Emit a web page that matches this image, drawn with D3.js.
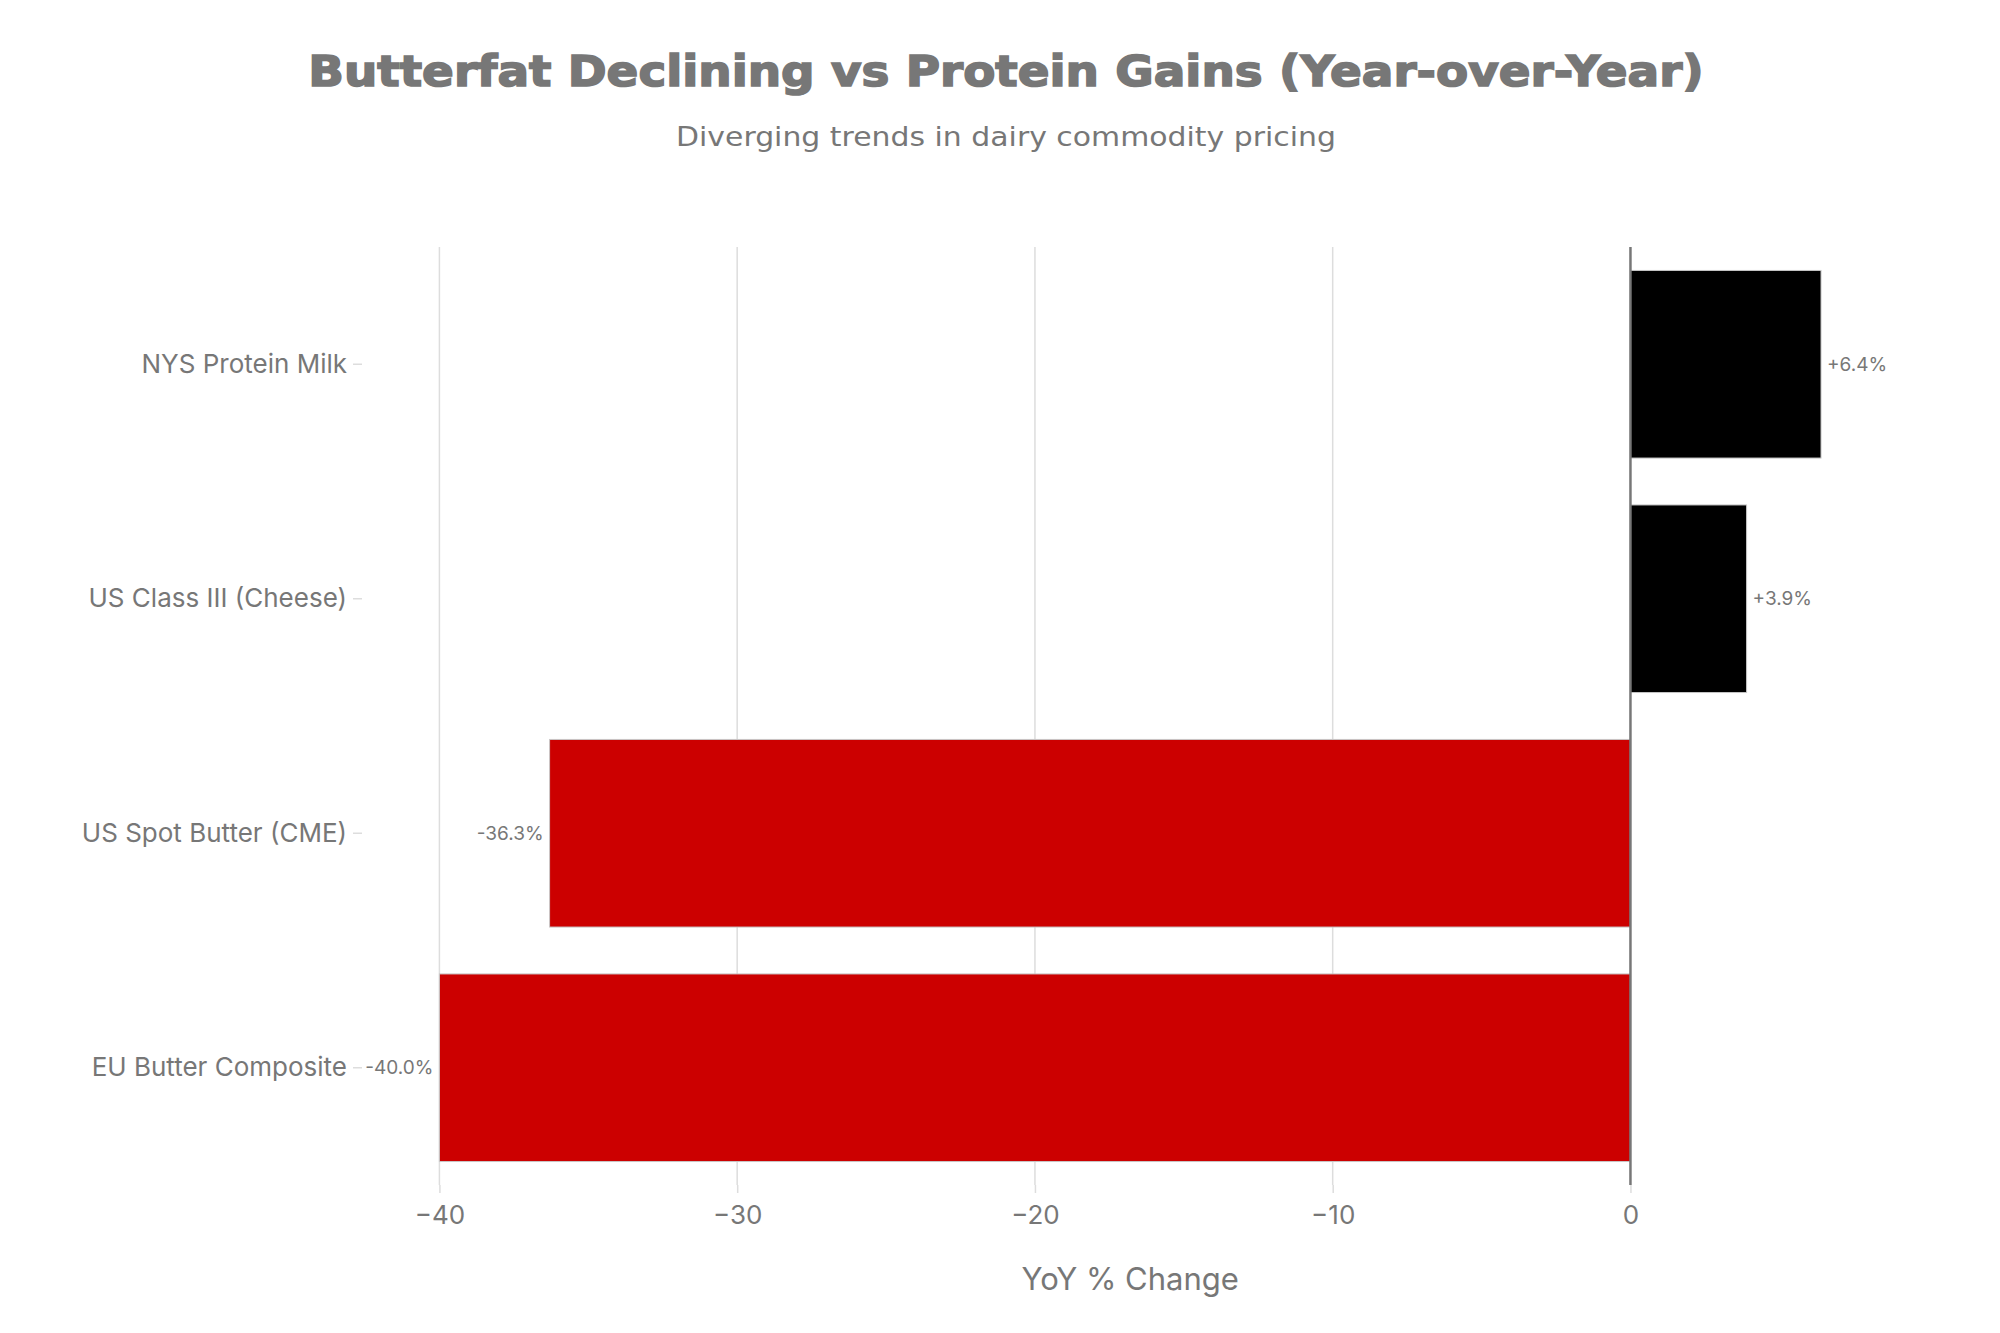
<!DOCTYPE html>
<html>
<head>
<meta charset="utf-8">
<script src="https://cdn.jsdelivr.net/npm/d3@7"></script>
<style>
  body { margin: 0; background: #fff; }
  svg { display: block; }
</style>
</head>
<body>
<svg width="2000" height="1333"></svg>
<script>
	// data
	var categories = ["NYS Protein Milk", "US Class III (Cheese)", "US Spot Butter (CME)", "EU Butter Composite"];
	var changes = [6.4, 3.9, -36.3, -40.0];
	var xTicks = [-40, -30, -20, -10, 0];

	var titleText = "Butterfat Declining vs Protein Gains (Year-over-Year)";
	var subtitleText = "Diverging trends in dairy commodity pricing";
	var xTitle = "YoY % Change";

	var grey = "#777";
	var labelFont = "Inter";
	var svg = d3.select("svg");
	var margin = {left: 362, right: 109, top: 247, bottom: 148};
	var width = +svg.attr("width"), height = +svg.attr("height");
	var plotW = width - margin.left - margin.right;
	var plotH = height - margin.top - margin.bottom;

	var x = d3.scaleLinear().domain([-42.6, 8.75]).range([0, plotW]);
	var y = d3.scaleBand().domain(categories).range([0, plotH]).paddingInner(0.2).paddingOuter(0.1);

	var data = categories.map(function(c, i) { return {name: c, value: changes[i]}; });

	// titles: heavy face, widened horizontally to the reference width
	svg.append("text")
		.attr("transform", "translate(1006,86) scale(1.09,1)")
		.attr("text-anchor", "middle")
		.style("font-family", "DejaVu Sans").style("font-weight", "bold")
		.style("font-size", "43px").style("fill", grey)
		.style("stroke", grey).style("stroke-width", 1.6)
		.text(titleText);
	svg.append("text")
		.attr("x", 1006).attr("y", 146)
		.attr("text-anchor", "middle")
		.attr("textLength", 660).attr("lengthAdjust", "spacingAndGlyphs")
		.style("font-family", "DejaVu Sans")
		.style("font-size", "27px").style("fill", grey)
		.text(subtitleText);

	var g = svg.append("g").attr("transform", "translate(" + margin.left + "," + margin.top + ")");

	// grid
	g.append("g").attr("class", "grid").selectAll("line").data(xTicks.filter(function(t) { return t !== 0; })).enter().append("line")
		.attr("x1", function(d) { return x(d); }).attr("x2", function(d) { return x(d); })
		.attr("y1", 0).attr("y2", plotH)
		.attr("stroke", "#ddd").attr("stroke-width", 1.5);

	// bars
	g.append("g").attr("class", "bars").selectAll("rect").data(data).enter().append("rect")
		.attr("x", function(d) { return x(Math.min(0, d.value)); })
		.attr("width", function(d) { return Math.abs(x(d.value) - x(0)); })
		.attr("y", function(d) { return y(d.name); })
		.attr("height", y.bandwidth())
		.attr("fill", function(d) { return d.value < 0 ? "#CC0000" : "#000000"; })
		.attr("stroke", "#c8c8c8").attr("stroke-width", 1);

	// zero line
	g.append("line")
		.attr("x1", x(0)).attr("x2", x(0)).attr("y1", 0).attr("y2", plotH)
		.attr("stroke", grey).attr("stroke-width", 2.5);

	// value labels
	g.append("g").attr("class", "labels").selectAll("text").data(data).enter().append("text")
		.attr("x", function(d) { return d.value < 0 ? x(d.value) - 6 : x(d.value) + 6; })
		.attr("y", function(d) { return y(d.name) + y.bandwidth() / 2; })
		.attr("dy", "0.35em")
		.attr("text-anchor", function(d) { return d.value < 0 ? "end" : "start"; })
		.style("font-family", labelFont).style("font-size", "19px").style("fill", grey)
		.text(function(d) { return (d.value > 0 ? "+" : "") + d.value.toFixed(1) + "%"; });

	// axes
	var yAxis = g.append("g").call(d3.axisLeft(y).tickSize(9).tickPadding(6));
	var xAxis = g.append("g").attr("transform", "translate(0," + plotH + ")")
		.call(d3.axisBottom(x).tickValues(xTicks).tickSize(8).tickPadding(13)
			.tickFormat(function(d) { return d < 0 ? "\u2212" + Math.abs(d) : d; }));

	[yAxis, xAxis].forEach(function(ax) {
		ax.select(".domain").remove();
		ax.selectAll(".tick line").attr("stroke", "#ddd").attr("stroke-width", 1.5);
		ax.selectAll(".tick text").style("font-family", labelFont).style("fill", grey).style("font-size", "26px");
	});

	svg.append("text")
		.attr("x", margin.left + x(-16.8)).attr("y", 1290)
		.attr("text-anchor", "middle")
		.style("font-family", labelFont).style("font-size", "31px").style("fill", grey)
		.text(xTitle);
</script>
</body>
</html>
